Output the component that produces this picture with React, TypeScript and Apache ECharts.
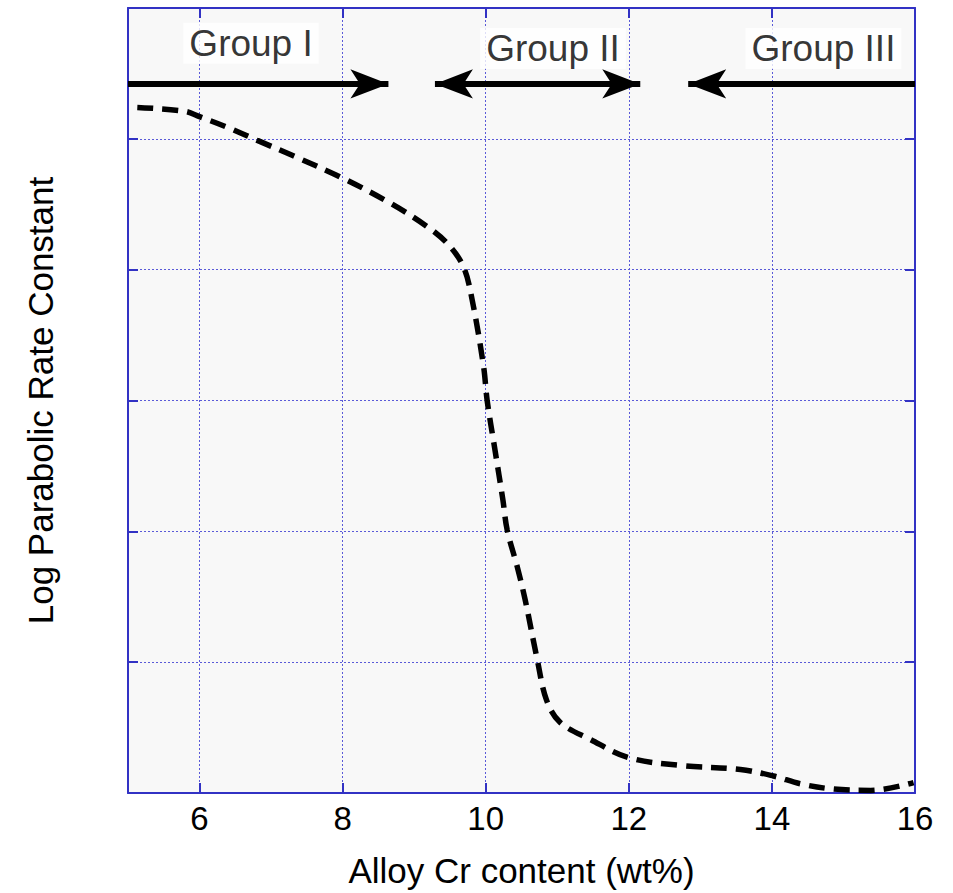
import React, { useEffect, useRef } from "react";
import * as echarts from "echarts";

// Curve
const crContent = [5.13, 5.8, 6.0, 6.38, 6.8, 7.31, 8.0, 8.66, 9.18, 9.48, 9.69, 9.81, 9.97, 10.02, 10.13, 10.24, 10.3, 10.44, 10.55, 10.72, 10.85, 11.04, 11.46, 12.0, 12.73, 13.56, 14.02, 14.4, 14.86, 15.38, 15.98];
const logRate = [5.24, 5.21, 5.17, 5.09, 4.99, 4.87, 4.7, 4.51, 4.33, 4.19, 4.02, 3.77, 3.26, 3.0, 2.62, 2.24, 2.01, 1.73, 1.48, 1.02, 0.71, 0.54, 0.41, 0.27, 0.21, 0.18, 0.13, 0.07, 0.03, 0.02, 0.08];

// Group annotations
const groupNames = ["Group I", "Group II", "Group III"];
const groupLabelX = [6.72, 10.94, 14.72];
const groupLabelY = [5.73, 5.69, 5.69];

// Arrows (tips): start/end x, with heads
const arrowY = 5.42;
const arrowStart = [5, 9.29, 12.83];
const arrowEnd = [8.64, 12.16, 16];
const arrowStartHead = [false, true, true];
const arrowEndHead = [true, true, false];

const FONT = "'Liberation Sans', Arial, Helvetica, sans-serif";
const BLUE = "#3232c4";

export default function App() {
  const ref = useRef<HTMLDivElement>(null);
  useEffect(() => {
    if (!ref.current) return;
    const chart = echarts.init(ref.current, undefined, { renderer: "svg" });
    const curve = crContent.map((x, i) => [x, logRate[i]]);
    const labels = groupNames.map((n, i) => [groupLabelX[i], groupLabelY[i], n]);
    const arrowLines = arrowStart.map((s, i) => [
      { coord: [s, arrowY], symbol: arrowStartHead[i] ? "arrow" : "none", symbolSize: [22, 38] },
      { coord: [arrowEnd[i], arrowY], symbol: arrowEndHead[i] ? "arrow" : "none", symbolSize: [22, 38] },
    ]);
    const hiddenAxisCommon = {
      axisLabel: { show: false },
      splitLine: { show: false },
      axisLine: { show: true, onZero: false, lineStyle: { color: BLUE, width: 2 } },
      axisTick: { show: true, inside: true, length: 10, lineStyle: { color: BLUE, width: 2 } },
    };
    chart.setOption({
      animation: false,
      backgroundColor: "#ffffff",
      textStyle: { fontFamily: FONT },
      grid: {
        left: 128,
        right: 38,
        top: 8,
        bottom: 100,
        show: true,
        backgroundColor: "#f8f8f8",
        borderWidth: 0,
      },
      xAxis: [
        {
          type: "value",
          min: 5,
          max: 16,
          splitNumber: 5,
          name: "Alloy Cr content (wt%)",
          nameLocation: "middle",
          nameGap: 60,
          nameTextStyle: { fontSize: 35, color: "#000", fontFamily: FONT },
          axisLine: { show: true, onZero: false, lineStyle: { color: BLUE, width: 2 } },
          axisTick: { show: true, inside: true, length: 10, lineStyle: { color: BLUE, width: 2 } },
          axisLabel: {
            fontSize: 33,
            color: "#000",
            fontFamily: FONT,
            margin: 9,
            showMinLabel: false,
            formatter: (v: number) => (v === 5 ? "" : String(v)),
          },
          splitLine: { show: true, lineStyle: { color: "#5a5ad8", width: 1, type: [2, 2] } },
        },
        { type: "value", min: 5, max: 16, splitNumber: 5, position: "top", ...hiddenAxisCommon },
      ],
      yAxis: [
        {
          type: "value",
          min: 0,
          max: 6,
          interval: 1,
          name: "Log Parabolic Rate Constant",
          nameLocation: "middle",
          nameGap: 70,
          nameTextStyle: { fontSize: 35, color: "#000", fontFamily: FONT },
          axisLine: { show: true, onZero: false, lineStyle: { color: BLUE, width: 2 } },
          axisTick: { show: true, inside: true, length: 10, lineStyle: { color: BLUE, width: 2 } },
          axisLabel: { show: false },
          splitLine: { show: true, lineStyle: { color: "#5a5ad8", width: 1, type: [2, 2] } },
        },
        { type: "value", min: 0, max: 6, interval: 1, position: "right", ...hiddenAxisCommon },
      ],
      series: [
        {
          type: "line",
          data: curve,
          smooth: 0.35,
          showSymbol: false,
          symbol: "none",
          lineStyle: { color: "#000", width: 5.5, type: [16, 9], cap: "butt" },
          z: 3,
          markLine: {
            silent: true,
            animation: false,
            label: { show: false },
            lineStyle: { color: "#000", width: 6, type: "solid" },
            data: arrowLines,
          },
        },
        {
          type: "scatter",
          data: labels,
          symbolSize: 0,
          silent: true,
          z: 4,
          label: {
            show: true,
            position: "inside",
            formatter: (p: any) => p.value[2],
            fontSize: 37,
            color: "#000",
            fontFamily: FONT,
            backgroundColor: "#ffffff",
            padding: [2, 6],
          },
        },
      ],
    });
    return () => chart.dispose();
  }, []);
  return (
    <div
      ref={ref}
      style={{ position: "fixed", left: 0, top: 0, width: 953, height: 893 }}
    />
  );
}
